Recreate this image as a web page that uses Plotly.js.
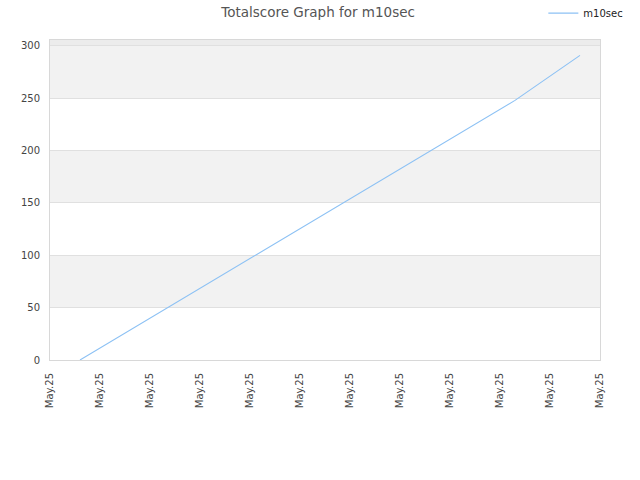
<!DOCTYPE html>
<html>
<head>
<meta charset="utf-8">
<script src="https://cdn.plot.ly/plotly-3.0.1.min.js"></script>
<style>html,body{margin:0;padding:0;background:#fff;}#chart{width:640px;height:480px;}</style>
</head>
<body>
<div id="chart"></div>
<script>
var seriesName = "m10sec";
var xPos = [0.6, 9.3, 10.6];
var scores = [0, 248, 291];
var tickPositions = [0,1,2,3,4,5,6,7,8,9,10,11];
var tickLabels = ["May.25","May.25","May.25","May.25","May.25","May.25","May.25","May.25","May.25","May.25","May.25","May.25"];
var yMax = 305.7;

var bands = [[50,100,"#f2f2f2"],[150,200,"#f2f2f2"],[250,300,"#f2f2f2"],[300,yMax,"#ececec"]];
var shapes = bands.map(function(b){
  return {type:"rect", xref:"paper", yref:"y", x0:0, x1:1, y0:b[0], y1:b[1],
          fillcolor:b[2], line:{width:0}, layer:"below"};
});

var trace = {
  x: xPos, y: scores, name: seriesName, type: "scatter", mode: "lines",
  line: {color: "#8cc1f4", width: 1.1}
};

var layout = {
  width: 640, height: 480,
  margin: {l: 50, r: 40, t: 40, b: 120, autoexpand: false},
  paper_bgcolor: "#ffffff", plot_bgcolor: "#ffffff",
  font: {family: "DejaVu Sans, Verdana, sans-serif", size: 10, color: "#444"},
  title: {text: "Totalscore Graph for m10sec", x: 0.497, xanchor: "center", y: 0.975, yanchor: "middle",
          font: {size: 13.5, color: "#555"}},
  showlegend: true,
  legend: {x: 0.897, xanchor: "left", y: 1.084, yanchor: "middle", bgcolor: "rgba(0,0,0,0)",
           font: {size: 10, color: "#222"}, itemwidth: 30},
  xaxis: {range: [0, 11], tickmode: "array", tickvals: tickPositions, ticktext: tickLabels,
          tickangle: -90, showgrid: false, zeroline: false, showline: true, linecolor: "#d8d8d8",
          mirror: true, ticks: "", ticklabelstandoff: 8, tickfont: {size: 10, color: "#444"}, fixedrange: true},
  yaxis: {range: [0, yMax], tickvals: [0,50,100,150,200,250,300], showgrid: true, gridcolor: "#e0e0e0",
          zeroline: false, showline: true, linecolor: "#d8d8d8", mirror: true, ticks: "",
          ticklabelstandoff: 7, tickfont: {size: 10, color: "#444"}, fixedrange: true},
  shapes: shapes
};

Plotly.newPlot("chart", [trace], layout, {displayModeBar: false, staticPlot: true});
</script>
</body>
</html>
